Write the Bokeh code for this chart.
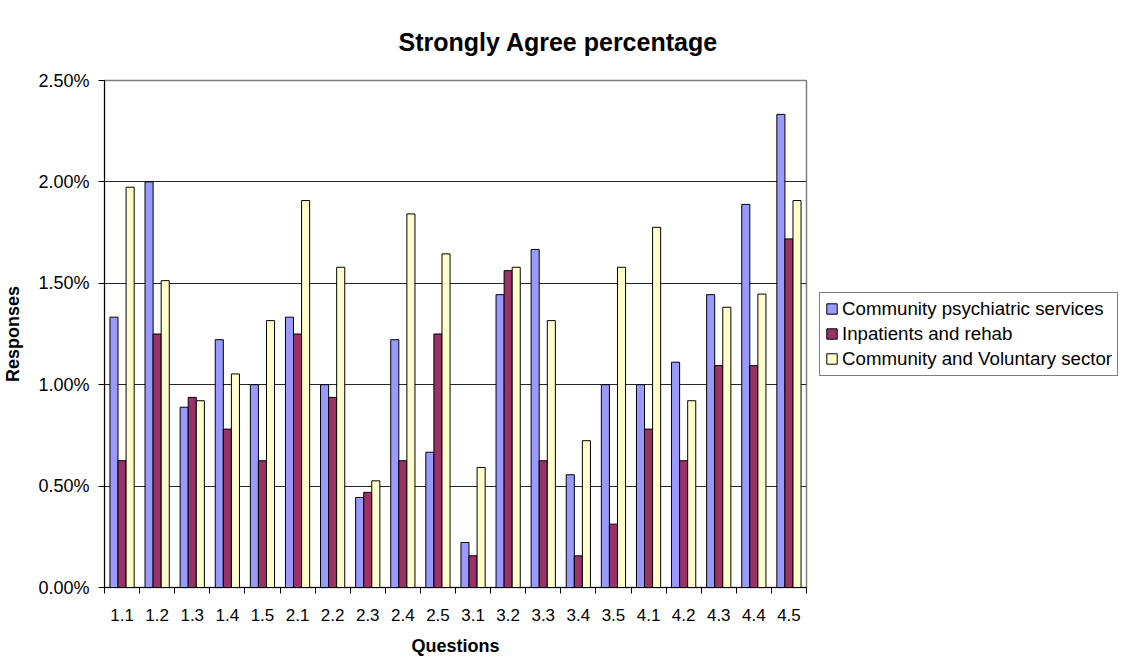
from bokeh.plotting import figure
from bokeh.models import FixedTicker, Legend, LegendItem, Range1d
from bokeh.embed import file_html
from bokeh.resources import INLINE
import numpy as np

questions = ["1.1", "1.2", "1.3", "1.4", "1.5", "2.1", "2.2", "2.3", "2.4", "2.5",
             "3.1", "3.2", "3.3", "3.4", "3.5", "4.1", "4.2", "4.3", "4.4", "4.5"]
series_names = ["Community psychiatric services", "Inpatients and rehab", "Community and Voluntary sector"]
community_psychiatric = [1.333, 2.000, 0.889, 1.222, 1.000, 1.333, 1.000, 0.444, 1.222, 0.667,
                         0.222, 1.444, 1.667, 0.556, 1.000, 1.000, 1.111, 1.444, 1.889, 2.333]
inpatients_rehab = [0.625, 1.250, 0.9375, 0.781, 0.625, 1.250, 0.9375, 0.469, 0.625, 1.250,
                    0.156, 1.5625, 0.625, 0.156, 0.3125, 0.781, 0.625, 1.094, 1.094, 1.719]
community_voluntary = [1.974, 1.513, 0.921, 1.053, 1.316, 1.908, 1.579, 0.526, 1.842, 1.645,
                       0.592, 1.579, 1.316, 0.724, 1.579, 1.776, 0.921, 1.382, 1.447, 1.908]
y_ticks = [0.0, 0.5, 1.0, 1.5, 2.0, 2.5]
y_tick_labels = ["0.00%", "0.50%", "1.00%", "1.50%", "2.00%", "2.50%"]

colors = ["#9999FF", "#993366", "#FFFFCC"]
FONT = "Liberation Sans"

n = len(questions)
centers = np.arange(n) + 0.5
bw = 0.23

p = figure(frame_width=702, frame_height=507, output_backend="svg", toolbar_location=None,
           x_range=Range1d(0, n), y_range=Range1d(0, 2.5),
           min_border_left=104, min_border_right=0, min_border_top=0, min_border_bottom=66,
           title="Strongly Agree percentage")

p.title.text_font = FONT
p.title.text_font_size = "25px"
p.title.text_font_style = "bold"
p.title.text_color = "black"
p.title.align = "left"
p.title.offset = 294
p.title.standoff = 50

renderers = []
for i, (vals, color) in enumerate(zip([community_psychiatric, inpatients_rehab, community_voluntary], colors)):
    r = p.vbar(x=centers + (i - 1) * bw, top=vals, width=bw, bottom=0,
               fill_color=color, line_color="black", line_width=1)
    renderers.append(r)

# grid
p.xgrid.visible = False
p.ygrid.ticker = FixedTicker(ticks=[0.5, 1.0, 1.5, 2.0])
p.ygrid.grid_line_color = "#000000"
p.ygrid.grid_line_width = 1
p.ygrid.grid_line_alpha = 0.85

p.outline_line_color = "#808080"
p.outline_line_width = 1.5

# x axis
p.xaxis.ticker = FixedTicker(ticks=list(centers), minor_ticks=list(range(n + 1)))
p.xaxis.major_label_overrides = {float(c): q for c, q in zip(centers, questions)}
p.xaxis.major_tick_line_color = None
p.xaxis.minor_tick_in = 0
p.xaxis.minor_tick_out = 6
p.xaxis.minor_tick_line_color = "black"
p.xaxis.axis_line_color = "black"
p.xaxis.major_label_text_font = FONT
p.xaxis.major_label_text_font_size = "17px"
p.xaxis.major_label_text_color = "black"
p.xaxis.major_label_standoff = 15
p.xaxis.axis_label = "Questions"
p.xaxis.axis_label_text_font = FONT
p.xaxis.axis_label_text_font_size = "18px"
p.xaxis.axis_label_text_font_style = "bold"
p.xaxis.axis_label_text_color = "black"
p.xaxis.axis_label_standoff = 12

# y axis
p.yaxis.ticker = FixedTicker(ticks=y_ticks, minor_ticks=[])
p.yaxis.major_label_overrides = {t: l for t, l in zip(y_ticks, y_tick_labels)}
p.yaxis.major_tick_in = 0
p.yaxis.major_tick_out = 6
p.yaxis.major_tick_line_color = "black"
p.yaxis.axis_line_color = "black"
p.yaxis.major_label_text_font = FONT
p.yaxis.major_label_text_font_size = "18px"
p.yaxis.major_label_text_color = "black"
p.yaxis.major_label_standoff = 9
p.yaxis.axis_label = "Responses"
p.yaxis.axis_label_text_font = FONT
p.yaxis.axis_label_text_font_size = "18px"
p.yaxis.axis_label_text_font_style = "bold"
p.yaxis.axis_label_text_color = "black"
p.yaxis.axis_label_standoff = 12

legend = Legend(items=[LegendItem(label=nm, renderers=[r]) for nm, r in zip(series_names, renderers)],
                location="left")
legend.label_text_font = FONT
legend.label_text_font_size = "18.7px"
legend.label_text_color = "black"
legend.glyph_width = 13
legend.glyph_height = 13
legend.label_height = 21
legend.spacing = 3
legend.padding = 5
legend.label_standoff = 4
legend.margin = 13
legend.border_line_color = "black"
legend.border_line_width = 1
legend.background_fill_alpha = 1
p.add_layout(legend, "right")

open("out.html", "w").write(file_html(p, INLINE))
